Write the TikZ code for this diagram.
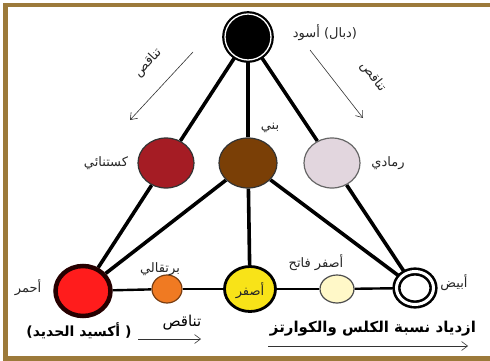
\documentclass[tikz,border=0pt]{standalone}
\usepackage{fontspec}
\newfontfamily\arabicfont[Script=Arabic]{DejaVu Sans}
\TeXXeTstate=1
\usetikzlibrary{arrows.meta, shapes.geometric, backgrounds}
\tikzset{font=\arabicfont\fontsize{13}{15}\selectfont, text=black!85, inner sep=1pt,
  colour/.style={ellipse, draw=black!80, line width=1.2pt, inner sep=0pt},
  edge/.style={line width=3.6pt, black},
  base/.style={line width=2.4pt, black},
  hint/.style={line width=0.6pt, black!80, -{Straight Barb[length=6pt, width=9pt]}},
  heavy/.style={font=\arabicfont\bfseries\fontsize{15}{17}\selectfont, text=black}}
\definecolor{frame}{HTML}{9C7A3A}
\definecolor{kast}{HTML}{A51C24}
\definecolor{brown}{HTML}{7A3F06}
\definecolor{ash}{HTML}{E2D6DE}
\definecolor{scarlet}{HTML}{FF1C1C}
\definecolor{orange}{HTML}{F07A22}
\definecolor{gold}{HTML}{F8E318}
\definecolor{cream}{HTML}{FFF8C8}

\begin{document}
\begin{tikzpicture}[x=1pt, y=-1pt]
    \useasboundingbox (0, 0) rectangle (490, 361);
    \begin{scope}[on background layer]
    \fill[white] (0, 0) rectangle (490, 361);
    \end{scope}
    \draw[frame, line width=4.5pt] (5.5, 5) rectangle (497, 358.5);

    \node[colour, minimum width=46pt, minimum height=46pt, fill=black, draw=black,
          line width=2.2pt, double=white, double distance=1.3pt] (black) at (248, 37) {};
    \node[colour, minimum width=56pt, minimum height=50pt, fill=kast] (kast) at (166, 163) {};
    \node[colour, minimum width=58pt, minimum height=50pt, fill=brown] (brown) at (248, 163) {};
    \node[colour, minimum width=56pt, minimum height=50pt, fill=ash, draw=black!60] (grey) at (332, 163) {};
    \node[colour, minimum width=55pt, minimum height=50pt, fill=scarlet, draw=black!85!red,
          line width=4.5pt] (red) at (83, 291) {};
    \node[colour, minimum width=30pt, minimum height=28pt, fill=orange, draw=black!50!orange] (orange) at (167, 289) {};
    \node[colour, minimum width=51pt, minimum height=45pt, fill=gold, line width=2.8pt, draw=black] (yellow) at (250, 289) {};
    \node[colour, minimum width=34pt, minimum height=28pt, fill=cream, draw=black!70] (light) at (337, 289) {};
    \node[colour, minimum width=37pt, minimum height=33pt, fill=white, draw=black,
          line width=2.6pt, double=white, double distance=3pt] (white) at (415, 288) {};

    \begin{scope}[on background layer]
    \path[edge]
        (black) edge (kast)
        (kast) edge (red)
        (black) edge (grey)
        (grey) edge (white)
        (black) edge (brown)
        (brown) edge (yellow)
        (brown) edge (red)
        (brown) edge (white)
        ;
    \path[base]
        (red) edge (orange)
        (orange) edge (yellow)
        (yellow) edge (light)
        (light) edge (white)
        ;
    \end{scope}

    \node (blackname) at (325, 33) {\beginR(دبال) أسود\endR};
    \node (brownname) at (270, 128) {\beginR بني\endR};
    \node (kastname) at (106, 163) {\beginR كستنائي\endR};
    \node (greyname) at (388, 163) {\beginR رمادي\endR};
    \node (redname) at (28, 288) {\beginR أحمر\endR};
    \node (orangename) at (160, 269) {\beginR برتقالي\endR};
    \node (yellowname) at (250, 291) {\beginR أصفر\endR};
    \node (lightname) at (316, 263) {\beginR أصفر فاتح\endR};
    \node (whitename) at (454, 283) {\beginR أبيض\endR};

    \coordinate (leftfrom) at (193, 52);
    \coordinate (leftto) at (130, 120);
    \coordinate (rightfrom) at (310, 50);
    \coordinate (rightto) at (363, 118);
    \coordinate (lowfrom) at (138, 339);
    \coordinate (lowto) at (201, 339);
    \coordinate (longfrom) at (268, 346);
    \coordinate (longto) at (468, 346);
    \path[hint]
        (leftfrom) edge (leftto)
        (rightfrom) edge (rightto)
        (lowfrom) edge (lowto)
        (longfrom) edge (longto)
        ;

    \node[rotate=47] (leftnote) at (148, 63) {\beginR تناقص\endR};
    \node[rotate=-52] (rightnote) at (373, 77) {\beginR تناقص\endR};
    \node[heavy, font=\arabicfont\fontsize{15}{17}\selectfont] (lownote) at (182, 323) {\beginR تناقص\endR};
    \node[heavy, font=\arabicfont\bfseries\fontsize{14}{16}\selectfont] (oxide) at (79, 331) {\beginR( أكسيد الحديد)\endR};
    \node[heavy] (lime) at (373, 329) {\beginR ازدياد نسبة الكلس والكوارتز\endR};
\end{tikzpicture}
\end{document}
